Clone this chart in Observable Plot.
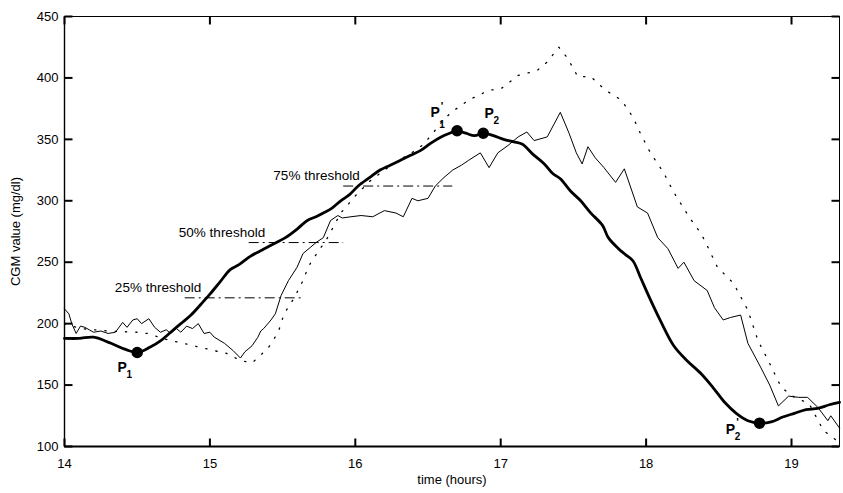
<!DOCTYPE html>
<html><head><meta charset="utf-8">
<script src="https://cdn.jsdelivr.net/npm/d3@7"></script>
<script src="https://cdn.jsdelivr.net/npm/@observablehq/plot@0.6"></script>
<style>body{margin:0;background:#fff}</style>
</head><body><div id="chart"></div>
<script>
// ---- data ----
const thickHours = [14.00,14.10,14.20,14.32,14.42,14.50,14.59,14.66,14.73,14.80,14.87,14.94,15.00,15.07,15.14,15.20,15.28,15.36,15.44,15.52,15.60,15.67,15.73,15.78,15.84,15.90,15.96,16.02,16.10,16.17,16.24,16.31,16.38,16.45,16.52,16.59,16.65,16.70,16.76,16.82,16.88,16.95,17.02,17.09,17.15,17.22,17.30,17.36,17.41,17.48,17.55,17.62,17.70,17.74,17.81,17.86,17.91,17.96,18.02,18.10,18.19,18.28,18.38,18.46,18.54,18.62,18.70,18.78,18.86,18.94,19.02,19.10,19.18,19.26,19.33];
const thickValues = [188,188,189,184,179,176.5,181,186,193,200,207,216,224,234,244,248,255,260,265,270,277,284,287,290,294,300,305,312,319,325,329,333,337,341,347,352,355,357,355,353,355,353,350,348,346,338,330,322,318,308,300,290,280,270,261,256,251,238,222,202,182,170,159,148,136,127,121,119,120,124,127,130,131,134,136];

const thinHours = [14.00,14.03,14.05,14.08,14.11,14.14,14.17,14.20,14.25,14.30,14.35,14.40,14.43,14.47,14.50,14.53,14.58,14.62,14.66,14.70,14.73,14.77,14.80,14.84,14.88,14.92,14.96,15.00,15.03,15.10,15.16,15.21,15.24,15.29,15.33,15.35,15.37,15.42,15.45,15.49,15.54,15.60,15.64,15.69,15.73,15.78,15.83,15.88,15.91,15.97,16.04,16.12,16.20,16.28,16.33,16.39,16.43,16.50,16.55,16.61,16.67,16.73,16.78,16.86,16.92,16.98,17.05,17.12,17.18,17.23,17.32,17.41,17.47,17.52,17.56,17.60,17.65,17.71,17.79,17.85,17.94,18.01,18.08,18.15,18.22,18.26,18.33,18.42,18.47,18.53,18.58,18.65,18.70,18.79,18.85,18.91,18.98,19.05,19.11,19.18,19.25,19.27,19.33];
const thinValues = [212,208,200,192,198,197,195,193,194,192,193,201,197,203,204,200,204,197,193,195,192,196,193,198,196,200,192,193,189,184,178,172,177,182,189,194,196,203,208,223,235,246,257,262,266,270,284,288,286,287,288,287,292,290,287,302,300,302,312,319,325,329,333,339,327,339,345,352,356,349,352,372,355,339,330,344,335,327,315,326,295,290,270,261,245,250,235,227,213,203,205,207,184,164,150,133,141,140,140,132,121,125,115];

const dotHours = [14.00,14.11,14.30,14.50,14.57,14.73,14.78,15.03,15.11,15.21,15.29,15.40,15.47,15.51,15.58,15.64,15.68,15.74,15.80,15.90,16.00,16.10,16.20,16.30,16.40,16.47,16.54,16.60,16.66,16.78,16.92,17.00,17.12,17.25,17.32,17.40,17.46,17.53,17.62,17.72,17.83,17.91,17.96,18.03,18.12,18.19,18.30,18.38,18.43,18.49,18.60,18.70,18.77,18.84,18.93,19.02,19.12,19.22,19.31];
const dotValues = [200,196,194,193,192,186,185,178,176,170,168,180,193,208,221,235,247,258,268,290,304,316,325,333,340,346,356,365,372,382,390,391,402,406,413,425,416,401,401,390,382,368,355,339,323,307,286,273,261,246,233,211,186,170,148,140,135,113,105];

const thresholdLabels = ["25% threshold","50% threshold","75% threshold"];
const thresholdValues = [221,266,312];
const thresholdStart = [14.83,15.27,15.92];
const thresholdEnd = [15.64,15.92,16.67];

const pointSubs = ["1","1","2","2"];
const pointPrimes = [false,true,false,true];
const pointHours = [14.50,16.70,16.88,18.78];
const pointValues = [176.5,357,355,119];

const xTicks = [14,15,16,17,18,19];
const yTicks = [100,150,200,250,300,350,400,450];
const xDomain = [14,19.33];
const yDomain = [100,450];

// ---- tables ----
const thick = thickHours.map((h,i)=>({hour:h, value:thickValues[i]}));
const thin = thinHours.map((h,i)=>({hour:h, value:thinValues[i]}));
const dotted = dotHours.map((h,i)=>({hour:h, value:dotValues[i]}));
const thresholds = thresholdLabels.map((l,i)=>({label:l, value:thresholdValues[i], start:thresholdStart[i], end:thresholdEnd[i]}));
const points = pointHours.map((h,i)=>({hour:h, value:pointValues[i], sub:pointSubs[i], prime:pointPrimes[i]}));
const xTickRows = xTicks.map(t=>({t}));
const yTickRows = yTicks.map(t=>({t}));

// ---- layout ----
const W = 843, H = 493, ML = 64, MR = 4, MT = 16, MB = 47;
const tickLen = 8;
const tx = tickLen * (xDomain[1]-xDomain[0]) / (W-ML-MR);
const ty = tickLen * (yDomain[1]-yDomain[0]) / (H-MT-MB);

// label layout (pixel offsets for P, subscript, prime)
const labelLayout = [
  {p:[-15,15], s:[-8,22], q:null},
  {p:[-22,-18], s:[-15,-6], q:[-15,-24]},
  {p:[6,-20], s:[13,-12], q:null},
  {p:[-29,6], s:[-22,14], q:[-22,-1]}
];

const font = "'Liberation Sans', Arial, Helvetica, sans-serif";

const labelMarks = points.flatMap((d,i)=>{
  const L = labelLayout[i];
  const m = [
    Plot.text([d], {x:"hour", y:"value", text:()=>"P", dx:L.p[0], dy:L.p[1], fontSize:14, fontWeight:"bold", fill:"black"}),
    Plot.text([d], {x:"hour", y:"value", text:"sub", dx:L.s[0], dy:L.s[1], fontSize:10, fontWeight:"bold", fill:"black"})
  ];
  if (d.prime) m.push(Plot.text([d], {x:"hour", y:"value", text:()=>"'", dx:L.q[0], dy:L.q[1], fontSize:11, fontWeight:"bold", fill:"black"}));
  return m;
});

const chart = Plot.plot({
  width: W,
  height: H,
  marginLeft: ML,
  marginRight: MR,
  marginTop: MT,
  marginBottom: MB,
  style: {fontFamily: font, fontSize: "13px", color: "black", background: "white"},
  x: {domain: xDomain},
  y: {domain: yDomain},
  marks: [
    Plot.frame({stroke: "black", strokeWidth: 1}),
    Plot.ruleY([yDomain[0]], {stroke: "black", strokeWidth: 2}),
    Plot.ruleX([xDomain[0]], {stroke: "black", strokeWidth: 1.4}),
    Plot.axisX(xTicks, {tickSize: 0, tickPadding: 12, fontSize: 13, tickFormat: d => String(d), label: "time (hours)", labelAnchor: "center", labelOffset: 37, labelArrow: "none"}),
    Plot.axisY(yTicks, {tickSize: 0, tickPadding: 6, fontSize: 13, tickFormat: d => String(d), label: "CGM value (mg/dl)", labelAnchor: "center", labelOffset: 54, labelArrow: "none"}),
    Plot.link(xTickRows, {x1: "t", x2: "t", y1: () => yDomain[0], y2: () => yDomain[0] + ty, stroke: "black", strokeWidth: 2}),
    Plot.link(xTickRows, {x1: "t", x2: "t", y1: () => yDomain[1] - ty, y2: () => yDomain[1], stroke: "black", strokeWidth: 2}),
    Plot.link(yTickRows, {y1: "t", y2: "t", x1: () => xDomain[0], x2: () => xDomain[0] + tx, stroke: "black", strokeWidth: 2}),
    Plot.link(yTickRows, {y1: "t", y2: "t", x1: () => xDomain[1] - tx, x2: () => xDomain[1], stroke: "black", strokeWidth: 2}),
    Plot.ruleY(thresholds, {y: "value", x1: "start", x2: "end", stroke: "black", strokeWidth: 1, strokeDasharray: "10,4,2,4"}),
    Plot.text(thresholds, {x: "start", y: "value", text: "label", textAnchor: "end", dx: 16, dy: -10, fontSize: 13.5, fill: "black"}),
    Plot.line(dotted, {x: "hour", y: "value", stroke: "black", strokeWidth: 1.3, strokeDasharray: "1.3,9", curve: "linear"}),
    Plot.line(thin, {x: "hour", y: "value", stroke: "black", strokeWidth: 1}),
    Plot.line(thick, {x: "hour", y: "value", stroke: "black", strokeWidth: 2.8, curve: "catmull-rom"}),
    Plot.dot(points, {x: "hour", y: "value", r: 5, fill: "black", stroke: "black"}),
    ...labelMarks
  ]
});
document.getElementById("chart").appendChild(chart);
</script>
</body></html>
